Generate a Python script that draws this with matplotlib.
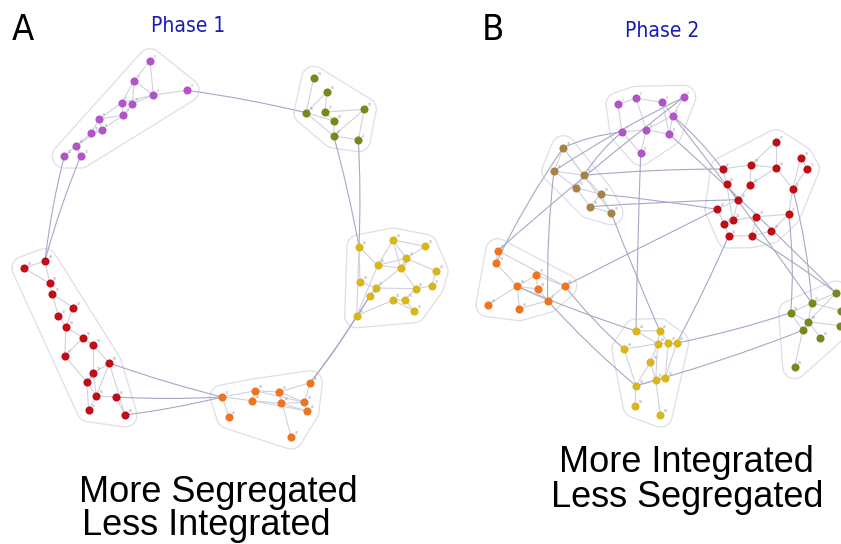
import numpy as np
import matplotlib
matplotlib.use("Agg")
from matplotlib import pyplot as plt
from matplotlib.path import Path
from matplotlib.patches import PathPatch

# ---- node positions (picture pixels), per module ----
# Phase 1
p1_purple = [(150, 60.7), (134, 80.7), (153.3, 95), (187, 90.3), (121.7, 102.7), (132.3, 104),
             (123, 115.3), (99.3, 119), (101.7, 129.7), (91.3, 133), (76, 145.7), (64.3, 156), (80.7, 156)]
p1_green = [(313.7, 78.3), (326.7, 92.3), (306, 112.7), (325, 112), (364.3, 109.3), (334, 121),
            (333.7, 136), (358.3, 139.7)]
p1_yellow = [(359, 246.7), (393, 240), (425.3, 246.3), (406, 258.3), (377.7, 265.3), (400.7, 268),
             (436, 271), (360, 281.7), (375.7, 288), (370, 295.7), (415.7, 288.7), (431.7, 286),
             (392.7, 300.3), (405, 299.7), (414, 310.7), (356.7, 315.7)]
p1_orange = [(310.3, 382.7), (255.3, 390.7), (279.3, 392), (222.3, 397), (252, 400.7), (281, 403.3),
             (304.3, 402.3), (307, 411), (228.7, 416.7), (291, 437)]
p1_red = [(24, 268.3), (45, 260.7), (49.7, 283.3), (52.3, 293.7), (73, 307.7), (58.3, 315.7), (66, 327),
          (83, 337.7), (93.3, 345.3), (64.7, 356), (109.3, 363), (93.3, 373.3), (86.7, 381.7),
          (96.3, 396), (116, 397), (88.7, 409.7), (125, 415)]

p1_purple_e = [(0, 2), (0, 1), (1, 2), (1, 4), (1, 5), (2, 3), (2, 4), (2, 5), (4, 6), (5, 6), (4, 7),
               (6, 7), (6, 8), (7, 9), (8, 9), (9, 10), (10, 11), (10, 12), (8, 10), (7, 8)]
p1_green_e = [(0, 2), (1, 2), (1, 3), (2, 5), (3, 5), (2, 6), (5, 6), (4, 6), (6, 7), (4, 7), (3, 4)]
p1_yellow_e = [(1, 2), (1, 3), (1, 4), (1, 5), (2, 3), (3, 4), (3, 5), (3, 6), (4, 5), (5, 10), (6, 11),
               (10, 11), (8, 10), (10, 13), (12, 13), (13, 14), (7, 8), (8, 9), (0, 7), (0, 15), (15, 4),
               (15, 8), (15, 9), (5, 8), (12, 14), (15, 12), (0, 4)]
p1_orange_e = [(0, 2), (0, 6), (1, 2), (1, 3), (1, 4), (2, 5), (2, 6), (3, 4), (3, 8), (4, 5), (5, 6),
               (5, 7), (6, 7), (2, 9), (4, 7), (1, 6)]
p1_red_e = [(0, 1), (0, 2), (1, 2), (2, 3), (3, 4), (3, 5), (5, 6), (4, 6), (6, 7), (7, 8), (6, 9),
            (8, 10), (9, 12), (10, 11), (10, 13), (11, 12), (12, 13), (13, 14), (12, 15), (13, 15),
            (14, 16), (10, 16), (7, 9), (11, 13), (8, 11)]

# Phase 2
p2_purple = [(618, 104.3), (636, 98.3), (662.3, 102.3), (683.7, 97.3), (672.7, 115.7), (646.3, 129.7),
             (622, 132), (669.3, 134.3), (640.7, 153.3)]
p2_brown = [(563.3, 147.7), (554, 171), (583.7, 175.3), (576, 187.7), (600.7, 194.3), (590, 206.7),
            (611, 212.7)]
p2_red = [(776, 141.7), (800.7, 157.7), (751, 164.7), (776, 167.7), (807.3, 168.7), (722.7, 169),
          (726.7, 184.3), (750, 184.7), (792.7, 188.7), (738.3, 199.7), (717, 209.3), (732.7, 220.3),
          (724.3, 223.7), (756, 216.7), (788.7, 214.3), (728.7, 236), (751.7, 235.7), (771, 231.3)]
p2_orange = [(497.7, 250.7), (496, 263.3), (536, 275), (517.3, 286.3), (537.7, 289), (564.7, 286),
             (547.7, 300.7), (488, 304.7), (519.3, 308.7)]
p2_yellow = [(636, 331), (659.7, 330.7), (657.7, 343.7), (668.3, 343), (676.7, 343), (624, 349),
             (650.3, 362), (655.7, 380), (665, 378.3), (636, 385.7), (635, 405.7), (660.3, 415)]
p2_green = [(836, 293), (811.7, 303), (841, 310.7), (790.7, 312.7), (808.3, 321.7), (802.7, 330.3),
            (840.3, 325.7), (820.3, 337.7), (794.7, 366.7)]

p2_purple_e = [(0, 1), (0, 6), (1, 5), (3, 4), (4, 5), (4, 7), (5, 6), (5, 7), (5, 8), (6, 8), (2, 4),
               (2, 7), (1, 2)]
p2_brown_e = [(0, 2), (0, 1), (1, 2), (1, 3), (2, 3), (2, 4), (3, 4), (3, 5), (4, 5), (4, 6), (5, 6),
              (0, 6)]
p2_red_e = [(0, 3), (0, 2), (1, 4), (1, 8), (2, 3), (2, 5), (2, 7), (3, 8), (4, 8), (5, 6), (6, 9),
            (7, 9), (9, 10), (9, 11), (10, 12), (11, 12), (11, 13), (12, 15), (13, 16), (15, 16),
            (16, 17), (13, 14), (8, 14), (14, 17), (6, 11), (3, 7)]
p2_orange_e = [(0, 1), (1, 3), (2, 3), (2, 4), (2, 5), (3, 4), (3, 6), (3, 7), (3, 8), (4, 6), (5, 6),
               (6, 8), (0, 5)]
p2_yellow_e = [(0, 1), (0, 2), (1, 2), (2, 3), (3, 4), (1, 3), (5, 2), (2, 6), (6, 9), (7, 9), (7, 8),
               (3, 8), (4, 8), (7, 11), (9, 10), (6, 7), (2, 7), (5, 9)]
p2_green_e = [(0, 1), (1, 3), (1, 4), (1, 2), (3, 4), (4, 5), (4, 7), (5, 8), (4, 6), (0, 4), (3, 5)]

# links between modules: (module a, node a, module b, node b)
p1_links = [("purple", 3, "green", 2), ("purple", 11, "red", 1), ("purple", 12, "red", 1),
            ("green", 6, "yellow", 0), ("green", 7, "yellow", 0), ("yellow", 15, "orange", 0),
            ("yellow", 9, "orange", 0), ("red", 14, "orange", 3), ("red", 16, "orange", 3),
            ("red", 10, "orange", 3)]
p2_links = [("purple", 3, "brown", 1), ("purple", 3, "orange", 0), ("purple", 8, "yellow", 0),
            ("purple", 4, "red", 5), ("purple", 7, "green", 0), ("purple", 6, "brown", 0),
            ("purple", 6, "brown", 2), ("brown", 1, "orange", 6), ("brown", 2, "red", 5),
            ("brown", 4, "red", 10), ("brown", 5, "red", 9), ("brown", 6, "yellow", 1),
            ("brown", 0, "orange", 1), ("red", 10, "orange", 5), ("red", 15, "yellow", 4),
            ("red", 14, "green", 3), ("red", 8, "green", 1), ("red", 16, "green", 0),
            ("orange", 3, "yellow", 0), ("orange", 6, "yellow", 9), ("orange", 5, "yellow", 5),
            ("yellow", 4, "green", 3), ("yellow", 9, "green", 5), ("purple", 4, "green", 1)]

colors = {"purple": "#b452c8", "green": "#748b1c", "yellow": "#d8b61e", "orange": "#ee7420",
          "red": "#c00d16", "brown": "#a4824a"}

phase1 = {"purple": (p1_purple, p1_purple_e), "green": (p1_green, p1_green_e),
          "yellow": (p1_yellow, p1_yellow_e), "orange": (p1_orange, p1_orange_e),
          "red": (p1_red, p1_red_e)}
phase2 = {"purple": (p2_purple, p2_purple_e), "brown": (p2_brown, p2_brown_e),
          "red": (p2_red, p2_red_e), "orange": (p2_orange, p2_orange_e),
          "yellow": (p2_yellow, p2_yellow_e), "green": (p2_green, p2_green_e)}


def convex_hull(pts):
    pts = sorted(set(map(tuple, pts)))
    def cross(o, a, b):
        return (a[0] - o[0]) * (b[1] - o[1]) - (a[1] - o[1]) * (b[0] - o[0])
    lower, upper = [], []
    for p in pts:
        while len(lower) >= 2 and cross(lower[-2], lower[-1], p) <= 0:
            lower.pop()
        lower.append(p)
    for p in reversed(pts):
        while len(upper) >= 2 and cross(upper[-2], upper[-1], p) <= 0:
            upper.pop()
        upper.append(p)
    return lower[:-1] + upper[:-1]


def draw_hull(ax, nodes, pad=12):
    ang = np.linspace(0, 2 * np.pi, 36, endpoint=False)
    ring = []
    for x, y in nodes:
        ring += list(zip(x + pad * np.cos(ang), y + pad * np.sin(ang)))
    h = np.array(convex_hull(ring))
    h = np.vstack([h, h[:1]])
    ax.plot(h[:, 0], h[:, 1], color="#dedee6", lw=0.9, zorder=1)


def curve(ax, a, b, center, bend, color, lw):
    a, b = np.array(a), np.array(b)
    mid = (a + b) / 2
    ctrl = mid + bend * (mid - np.array(center))
    path = Path([a, ctrl, b], [Path.MOVETO, Path.CURVE3, Path.CURVE3])
    ax.add_patch(PathPatch(path, fc="none", ec=color, lw=lw, zorder=2))


def draw_phase(ax, phase, links, center, bend, start_id):
    k = start_id
    for name, (nodes, edges) in phase.items():
        draw_hull(ax, nodes)
        for i, j in edges:
            ax.plot([nodes[i][0], nodes[j][0]], [nodes[i][1], nodes[j][1]],
                    color="#d0d1de", lw=0.8, zorder=2)
    for ma, ia, mb, ib in links:
        curve(ax, phase[ma][0][ia], phase[mb][0][ib], center, bend, "#a7a7c8", 0.8)
    for name, (nodes, edges) in phase.items():
        xy = np.array(nodes)
        ax.scatter(xy[:, 0], xy[:, 1], s=34, color=colors[name], zorder=3, linewidths=0)
        # tiny node id labels
        for x, y in nodes:
            k += 1
            if x < 832:
                ax.text(x + 3.5, y - 3, str(k), fontsize=2.2, color="#8c8c9c", zorder=3)


fig = plt.figure(figsize=(8.41, 5.44), dpi=100)
ax = fig.add_axes([0, 0, 1, 1])
ax.set_xlim(0, 841)
ax.set_ylim(544, 0)
ax.axis("off")

draw_phase(ax, phase1, p1_links, (230, 250), 0.02, 0)
draw_phase(ax, phase2, p2_links, (660, 250), 0.04, 0)

ax.text(12, 40, "A", fontsize=26, color="black", family="DejaVu Sans", stretch="condensed")
ax.text(482, 40, "B", fontsize=26, color="black", family="DejaVu Sans", stretch="condensed")
ax.text(151, 32, "Phase 1", fontsize=15, color="#1c1cb4", family="DejaVu Sans", stretch="condensed")
ax.text(625, 37, "Phase 2", fontsize=15, color="#1c1cb4", family="DejaVu Sans", stretch="condensed")

ax.text(79, 502, "More Segregated", fontsize=26, family="Liberation Sans")
ax.text(82, 535, "Less Integrated", fontsize=26, family="Liberation Sans")
ax.text(559, 472, "More Integrated", fontsize=26, family="Liberation Sans")
ax.text(551, 507, "Less Segregated", fontsize=26, family="Liberation Sans")

fig.savefig("out.png", dpi=100)
